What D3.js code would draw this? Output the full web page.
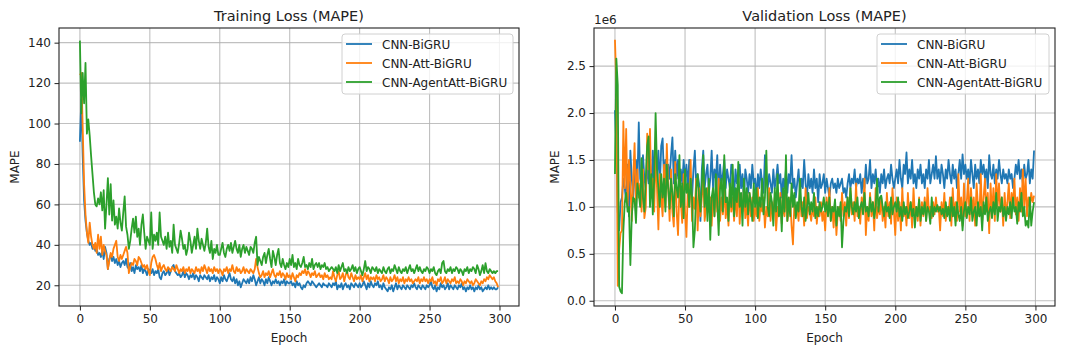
<!DOCTYPE html>
<html>
<head>
<meta charset="utf-8">
<script src="https://cdn.jsdelivr.net/npm/d3@7"></script>
<style>
    body { margin: 0; background: #fff; }
    svg { font-family: "DejaVu Sans", sans-serif; }
</style>
</head>
<body>
<div id="chart"></div>
<script>
var SERIES_NAMES = ["CNN-BiGRU", "CNN-Att-BiGRU", "CNN-AgentAtt-BiGRU"];
var SERIES_COLORS = ["#1f77b4", "#ff7f0e", "#2ca02c"];

var xTicks = [0, 50, 100, 150, 200, 250, 300];
var trainTicks = [20, 40, 60, 80, 100, 120, 140];
var valTicks = [0.0, 0.5, 1.0, 1.5, 2.0, 2.5];

// training MAPE, one value per epoch
var trainBiGRU = [
    91, 112, 84, 62, 52, 46, 42, 40, 41, 38,
    40, 37, 38, 35, 36, 34, 37, 33, 39, 36,
    28, 33, 35, 32, 34, 31, 33, 30, 32, 29,
    31, 32, 30, 33, 29, 28, 31, 27, 29, 26,
    30, 28, 29, 27, 30, 26, 28, 27, 25, 28,
    27, 26, 28, 25, 27, 26, 28, 24, 23, 26,
    27, 25, 26, 28, 25, 27, 29, 30, 27, 26,
    25, 26, 24, 25, 27, 24, 26, 25, 23, 25,
    24, 26, 23, 25, 24, 22, 25, 24, 23, 25,
    24, 23, 25, 22, 24, 23, 25, 22, 24, 23,
    21, 24, 22, 25, 23, 22, 24, 26, 23, 22,
    24, 21, 23, 20, 22, 19, 21, 23, 22, 21,
    23, 21, 24, 22, 25, 23, 20, 22, 24, 21,
    23, 22, 20, 23, 21, 24, 22, 20, 22, 21,
    23, 21, 22, 20, 22, 21, 23, 20, 22, 21,
    21, 22, 20, 21, 19, 22, 20, 21, 19, 18,
    20, 19, 21, 22, 21, 20, 22, 21, 20, 19,
    20, 21, 20, 19, 21, 20, 20, 19, 21, 20,
    19, 21, 20, 22, 18, 20, 19, 21, 18, 20,
    21, 19, 20, 18, 21, 20, 19, 21, 20, 19,
    21, 19, 20, 22, 20, 18, 21, 19, 22, 20,
    19, 21, 20, 22, 19, 20, 18, 21, 19, 18,
    17, 19, 18, 20, 17, 19, 21, 18, 20, 19,
    18, 20, 19, 18, 20, 19, 18, 20, 19, 21,
    19, 18, 20, 19, 18, 20, 19, 18, 20, 19,
    20, 22, 19, 18, 20, 17, 19, 18, 21, 19,
    20, 18, 19, 21, 18, 20, 19, 18, 20, 19,
    18, 20, 19, 21, 18, 19, 17, 19, 18, 20,
    18, 19, 17, 19, 18, 20, 18, 19, 17, 18,
    19, 18, 20, 18, 19, 18, 19, 18, 18, 19
];
var trainAttBiGRU = [
    124, 125, 98, 70, 55, 46, 41, 51, 44, 40,
    38, 41, 36, 45, 38, 44, 35, 40, 37, 35,
    28, 32, 36, 34, 38, 40, 42, 34, 32, 35,
    33, 35, 37, 39, 36, 26, 29, 31, 30, 33,
    32, 30, 34, 33, 31, 29, 30, 28, 30, 27,
    25, 31, 34, 35, 33, 30, 28, 31, 27, 29,
    30, 28, 27, 29, 28, 27, 29, 28, 27, 30,
    28, 26, 28, 27, 29, 26, 28, 27, 29, 26,
    28, 27, 26, 29, 27, 28, 26, 29, 27, 30,
    28, 26, 29, 27, 28, 26, 29, 27, 28, 26,
    28, 27, 25, 28, 27, 29, 26, 28, 27, 30,
    27, 26, 29, 27, 28, 26, 27, 29, 26, 28,
    27, 26, 28, 27, 26, 28, 33, 29, 26, 24,
    25, 27, 24, 26, 25, 27, 24, 26, 28, 25,
    24, 26, 25, 27, 24, 26, 25, 23, 26, 24,
    25, 23, 26, 24, 22, 25, 24, 26, 25, 27,
    26, 28, 25, 27, 26, 24, 26, 25, 27, 24,
    25, 26, 24, 25, 23, 26, 24, 25, 23, 24,
    23, 27, 24, 22, 25, 27, 23, 24, 26, 22,
    25, 27, 24, 23, 26, 24, 22, 25, 23, 24,
    23, 25, 22, 24, 26, 23, 25, 22, 24, 23,
    24, 22, 25, 23, 24, 22, 23, 25, 22, 24,
    23, 21, 24, 22, 23, 25, 22, 24, 21, 23,
    22, 24, 21, 23, 22, 24, 22, 23, 21, 22,
    23, 22, 24, 21, 23, 22, 24, 22, 23, 21,
    23, 22, 24, 21, 22, 20, 23, 22, 24, 21,
    22, 24, 21, 23, 22, 21, 23, 22, 24, 21,
    22, 21, 23, 22, 20, 22, 21, 23, 22, 21,
    22, 20, 21, 23, 22, 21, 20, 22, 21, 23,
    22, 24, 23, 25, 24, 23, 24, 22, 21, 19
];
var trainAgentAtt = [
    141, 105, 125, 110, 130, 95, 102, 94, 84, 75,
    66, 60, 59, 63, 60, 66, 57, 67, 48, 60,
    73, 55, 70, 52, 62, 50, 54, 48, 58, 51,
    47, 56, 64, 49, 45, 38, 42, 48, 53, 46,
    54, 44, 48, 40, 50, 55, 46, 38, 44, 42,
    40, 56, 38, 45, 42, 46, 40, 56, 44, 42,
    40, 44, 38, 46, 39, 42, 36, 50, 40, 38,
    36, 41, 47, 43, 38, 40, 35, 38, 46, 42,
    36, 40, 44, 38, 48, 42, 38, 43, 40, 37,
    41, 48, 39, 36, 42, 33, 38, 36, 40, 35,
    35, 38, 41, 36, 34, 38, 40, 37, 41, 36,
    39, 42, 38, 36, 40, 34, 38, 40, 36, 39,
    37, 35, 39, 38, 36, 41, 44, 30, 34, 32,
    30, 34, 36, 31, 35, 38, 33, 29, 37, 34,
    30, 35, 38, 31, 29, 33, 30, 28, 31, 29,
    33, 30, 35, 29, 31, 28, 33, 30, 29, 31,
    34, 29, 30, 28, 31, 29, 33, 28, 30, 31,
    29, 31, 28, 30, 29, 31, 28, 29, 27, 28,
    29, 28, 27, 29, 26, 30, 27, 29, 31, 27,
    28, 26, 29, 27, 28, 30, 27, 29, 26, 28,
    29, 27, 25, 28, 32, 27, 29, 28, 26, 29,
    28, 27, 29, 26, 28, 27, 26, 29, 27, 26,
    28, 29, 26, 28, 27, 30, 28, 26, 29, 27,
    26, 28, 27, 29, 26, 28, 30, 27, 28, 26,
    28, 30, 27, 29, 27, 26, 28, 27, 29, 28,
    26, 28, 27, 29, 26, 25, 27, 28, 26, 31,
    32, 27, 26, 28, 27, 29, 26, 28, 27, 29,
    28, 26, 28, 27, 25, 28, 27, 29, 26, 28,
    27, 29, 28, 26, 30, 28, 25, 27, 30, 26,
    31, 27, 26, 28, 27, 26, 27, 26, 27, 27
];

// validation MAPE, in units of 1e6
var valBiGRU = [
    2.03, 1.65, 0.95, 0.75, 1.05, 1.1, 1.3, 1.2, 1.05, 1.45,
    0.9, 1.6, 1.3, 1.1, 1.35, 1.5, 1.25, 1.9, 1.3, 1.2,
    1.55, 1.3, 1.2, 1.45, 1.25, 1.5, 1.1, 1.6, 1.25, 1.4,
    1.35, 1.6, 1.2, 1.65, 1.73, 1.3, 1.5, 1.2, 1.45, 1.3,
    1.55, 1.74, 1.25, 1.6, 1.3, 1.5, 1.15, 1.4, 1.25, 1.5,
    1.3, 1.45, 1.2, 1.5, 1.25, 1.1, 1.4, 1.6, 1.2, 1.35,
    1.25, 0.85, 1.4, 1.6, 1.2, 1.35, 1.45, 1.15, 1.3, 1.6,
    1.2, 1.4, 1.3, 1.55, 1.1, 1.45, 1.25, 1.35, 1.5, 1.2,
    1.4, 1.3, 1.2, 1.45, 1.35, 1.1, 1.4, 1.25, 1.3, 1.45,
    1.2, 1.35, 1.05, 1.4, 1.3, 1.15, 1.35, 1.2, 1.45, 1.25,
    1.3, 1.1, 1.35, 1.2, 1.4, 1.25, 1.15, 1.55, 1.3, 1.2,
    1.35, 1.25, 1.15, 1.4, 1.2, 1.3, 1.45, 1.25, 1.35, 1.1,
    1.3, 1.2, 1.4, 1.15, 1.35, 1.25, 1.55, 1.2, 1.3, 1.1,
    1.25, 1.4, 1.15, 1.3, 1.2, 1.5, 1.25, 1.1, 1.35, 1.2,
    1.3, 1.15, 1.4, 1.2, 1.3, 1.05, 1.35, 1.2, 1.25, 1.35,
    1.15, 1.3, 1.2, 1.1, 1.25, 1.3, 1.2, 1.25, 1.15, 1.3,
    1.2, 1.25, 1.3, 1.15, 1.2, 1.1, 1.25, 1.35, 1.2, 1.3,
    1.25, 1.4, 1.2, 1.3, 1.25, 1.35, 1.15, 1.3, 1.2, 1.45,
    1.25, 1.3, 1.5, 1.2, 1.35, 1.25, 1.4, 1.2, 1.3, 1.15,
    1.35, 1.25, 1.4, 1.2, 1.3, 1.35, 1.25, 1.45, 1.3, 1.2,
    1.3, 1.4, 1.25, 1.5, 1.3, 1.2, 1.45, 1.35, 1.58, 1.25,
    1.4, 1.3, 1.5, 1.25, 1.35, 1.2, 1.4, 1.3, 1.45, 1.25,
    1.35, 1.2, 1.4, 1.3, 1.5, 1.25, 1.35, 1.45, 1.3, 1.54,
    1.3, 1.4, 1.25, 1.45, 1.35, 1.2, 1.4, 1.3, 1.5, 1.35,
    1.25, 1.45, 1.3, 1.4, 1.2, 1.35, 1.5, 1.3, 1.56, 1.35,
    1.45, 1.3, 1.4, 1.25, 1.5, 1.35, 1.2, 1.45, 1.3, 1.4,
    1.25, 1.5, 1.35, 1.45, 1.3, 1.4, 1.2, 1.55, 1.35, 1.3,
    1.45, 1.25, 1.4, 1.3, 1.5, 1.35, 1.25, 1.4, 1.3, 1.35,
    1.25, 1.4, 1.3, 1.35, 1.2, 1.3, 1.45, 1.35, 1.5, 1.3,
    1.4, 1.25, 1.45, 1.3, 1.35, 1.5, 1.25, 1.4, 1.3, 1.6
];
var valAttBiGRU = [
    2.78, 2.3, 0.16, 0.55, 0.72, 0.75, 1.91, 1.2, 1.83, 1.0,
    1.5, 1.25, 0.85, 1.3, 1.68, 1.0, 1.4, 1.1, 1.25, 0.95,
    1.4, 0.88, 1.0, 1.78, 1.4, 1.83, 1.1, 1.3, 0.95, 1.6,
    1.2, 0.76, 1.35, 1.1, 0.9, 1.45, 1.0, 1.67, 1.2, 0.85,
    1.4, 0.95, 0.79, 1.48, 0.95, 0.7, 1.2, 1.05, 0.83, 1.35,
    0.95, 0.68, 1.2, 1.0, 1.5, 0.85, 1.1, 0.98, 1.3, 0.75,
    1.2, 0.9, 1.1, 1.35, 0.85, 1.0, 1.2, 0.95, 1.1, 0.8,
    1.15, 0.9, 1.2, 0.95, 1.3, 0.85, 1.1, 0.92, 1.25, 0.88,
    1.05, 0.8, 1.2, 0.95, 1.1, 0.85, 1.15, 0.9, 1.3, 0.82,
    1.1, 0.95, 1.2, 0.88, 1.05, 0.8, 1.15, 0.9, 1.1, 0.85,
    1.0, 0.9, 1.2, 0.85, 1.05, 0.95, 1.1, 0.78, 1.0, 0.9,
    1.2, 0.85, 1.05, 0.95, 1.1, 0.75, 1.0, 0.9, 1.15, 0.82,
    1.05, 0.9, 1.2, 0.85, 0.95, 1.1, 0.8, 0.6, 1.05, 0.9,
    1.0, 0.85, 1.15, 0.9, 1.05, 0.8, 1.2, 0.88, 1.0, 0.95,
    0.85, 1.0, 0.9, 1.1, 0.82, 1.0, 0.9, 1.05, 0.85, 0.95,
    0.75, 1.1, 0.9, 1.2, 0.85, 1.0, 0.78, 1.05, 0.7, 0.95,
    1.0, 0.85, 1.15, 0.9, 1.05, 0.8, 1.1, 0.88, 1.2, 0.92,
    1.05, 0.85, 1.25, 0.9, 1.0, 0.82, 1.1, 0.95, 1.3, 0.7,
    1.0, 0.85, 1.15, 0.9, 1.05, 0.75, 1.2, 0.88, 1.0, 0.92,
    1.1, 0.85, 1.0, 0.78, 1.15, 0.9, 1.05, 0.82, 1.2, 0.95,
    0.7, 1.1, 0.85, 1.05, 0.75, 1.2, 0.9, 1.0, 0.8, 1.15,
    0.88, 1.05, 0.78, 1.2, 0.9, 1.0, 0.85, 1.1, 0.8, 1.05,
    0.9, 1.1, 0.85, 1.2, 0.95, 1.0, 0.88, 1.05, 0.92, 1.1,
    0.95, 1.0, 0.75, 1.05, 0.9, 1.15, 0.85, 1.0, 0.92, 1.1,
    0.8, 1.2, 0.9, 1.05, 0.85, 1.35, 0.95, 1.1, 0.8, 1.25,
    0.9, 1.05, 1.3, 0.85, 1.2, 0.95, 1.1, 0.8, 1.25, 1.0,
    0.9, 1.35, 0.85, 1.1, 1.3, 0.95, 1.15, 0.72, 1.25, 0.9,
    1.2, 0.85, 1.35, 1.0, 1.25, 0.95, 1.1, 0.8, 1.15, 0.9,
    1.05, 1.25, 0.88, 1.15, 1.0, 1.3, 0.92, 1.1, 0.85, 1.2,
    0.95, 1.4, 1.0, 1.3, 0.9, 1.1, 1.0, 1.15, 1.05, 1.12
];
var valAgentAtt = [
    1.35, 2.58, 2.3, 0.15, 0.1, 0.08, 0.75, 1.05, 1.15, 0.95,
    1.0, 0.38, 0.9, 1.1, 1.08, 0.83, 1.25, 1.15, 1.0, 1.52,
    1.1, 0.95, 1.3, 1.65, 1.75, 1.0, 1.35, 0.92, 1.3, 2.0,
    1.4, 1.2, 1.0, 1.35, 1.1, 1.3, 0.95, 1.45, 1.2, 0.98,
    1.3, 1.15, 0.9, 1.35, 1.2, 1.1, 1.55, 1.0, 1.25, 0.88,
    1.4, 1.15, 1.25, 1.0, 1.3, 1.1, 0.57, 0.75, 1.2, 1.35,
    1.1, 0.95, 1.25, 1.55, 1.0, 1.2, 0.85, 1.3, 0.65, 1.1,
    1.2, 0.9, 1.35, 1.05, 0.7, 1.2, 1.3, 0.95, 1.55, 1.05,
    1.1, 0.85, 1.25, 1.0, 1.45, 0.9, 1.2, 1.05, 1.48, 1.0,
    1.15, 0.8, 1.3, 1.0, 1.2, 0.92, 1.15, 1.05, 0.85, 1.25,
    1.0, 1.2, 0.88, 1.1, 1.0, 1.3, 0.92, 1.1, 1.6, 1.0,
    0.9, 1.15, 1.05, 0.8, 1.2, 0.95, 1.35, 0.9, 1.1, 0.74,
    1.2, 0.95, 1.55, 0.85, 1.1, 0.9, 1.25, 1.0, 1.15, 0.88,
    1.05, 0.95, 1.3, 1.0, 0.9, 1.1, 0.85, 1.0, 1.15, 0.92,
    1.05, 0.95, 1.15, 0.88, 1.0, 0.9, 1.05, 0.95, 1.0, 1.1,
    0.95, 1.05, 0.9, 1.1, 0.85, 1.0, 0.95, 1.08, 0.8, 1.0,
    0.9, 1.05, 0.57, 0.85, 1.0, 0.95, 1.1, 0.9, 1.2, 1.0,
    0.92, 1.05, 0.95, 1.1, 0.88, 1.0, 1.05, 0.92, 1.15, 0.95,
    1.0, 0.9, 1.1, 0.95, 1.05, 0.88, 1.0, 1.3, 0.95, 1.1,
    1.12, 1.0, 0.9, 1.05, 0.95, 1.0, 0.88, 1.1, 0.92, 1.0,
    1.05, 0.95, 1.1, 0.9, 1.0, 0.85, 1.05, 0.92, 1.0, 0.88,
    0.95, 1.05, 0.9, 0.98, 0.78, 1.0, 0.9, 1.08, 0.85, 1.0,
    0.92, 1.05, 0.85, 1.0, 0.95, 0.82, 1.1, 0.9, 1.0, 0.95,
    1.02, 0.95, 1.0, 0.92, 0.98, 0.88, 1.05, 0.9, 1.0, 0.85,
    1.1, 0.9, 1.0, 0.8, 1.05, 0.92, 0.85, 1.0, 0.75, 0.95,
    1.05, 0.88, 1.0, 0.92, 1.1, 0.85, 0.95, 1.0, 0.8, 1.05,
    0.9, 1.0, 0.75, 1.05, 0.92, 1.1, 0.85, 0.95, 1.0, 0.88,
    1.05, 0.92, 1.15, 0.85, 1.0, 0.95, 1.1, 0.9, 1.0, 0.85,
    1.0, 0.92, 1.05, 0.88, 1.1, 0.95, 1.0, 0.82, 1.05, 0.95,
    1.15, 0.9, 1.0, 0.8, 0.85, 0.78, 1.1, 0.8, 0.95, 1.05
];

var WIDTH = 1080,
    HEIGHT = 354;

var svg = d3.select("#chart")
    .append("svg")
    .attr("width", WIDTH)
    .attr("height", HEIGHT);

function drawPanel(opts) {
    var box = opts.box; // left, top, right, bottom in px
    var w = box.right - box.left,
        h = box.bottom - box.top;

    var g = svg.append("g")
        .attr("transform", "translate(" + box.left + "," + box.top + ")");

    var x = d3.scaleLinear().domain([-14.95, 313.95]).range([0, w]);
    var y = d3.scaleLinear().domain(opts.yDomain).range([h, 0]);

    // grid
    g.append("g")
        .selectAll("line")
        .data(xTicks).enter()
        .append("line")
        .attr("x1", function(d) { return x(d); })
        .attr("x2", function(d) { return x(d); })
        .attr("y1", 0).attr("y2", h)
        .attr("stroke", "#b0b0b0").attr("stroke-opacity", 0.8).attr("stroke-width", 1.1);
    g.append("g")
        .selectAll("line")
        .data(opts.yTicks).enter()
        .append("line")
        .attr("y1", function(d) { return y(d); })
        .attr("y2", function(d) { return y(d); })
        .attr("x1", 0).attr("x2", w)
        .attr("stroke", "#b0b0b0").attr("stroke-opacity", 0.8).attr("stroke-width", 1.1);

    // lines
    var line = d3.line()
        .x(function(d, i) { return x(i); })
        .y(function(d) { return y(d); });

    opts.series.forEach(function(s, k) {
        g.append("path")
            .datum(s)
            .attr("d", line)
            .attr("fill", "none")
            .attr("stroke", SERIES_COLORS[k])
            .attr("stroke-width", 1.8)
            .attr("stroke-linejoin", "round");
    });

    // axes
    var xAxis = g.append("g")
        .attr("transform", "translate(0," + h + ")")
        .call(d3.axisBottom(x).tickValues(xTicks).tickSize(4.5).tickSizeOuter(0).tickPadding(3.5));
    var yAxis = g.append("g")
        .call(d3.axisLeft(y).tickValues(opts.yTicks).tickFormat(opts.tickFormat).tickSize(4.5).tickSizeOuter(0).tickPadding(3.5));

    [xAxis, yAxis].forEach(function(a) {
        a.select(".domain").remove();
        a.selectAll("text")
            .attr("font-family", "DejaVu Sans")
            .attr("font-size", 12)
            .attr("fill", "#222");
        a.selectAll("line").attr("stroke", "#222").attr("stroke-width", 1);
    });

    // frame
    g.append("rect")
        .attr("x", 0).attr("y", 0)
        .attr("width", w).attr("height", h)
        .attr("fill", "none")
        .attr("stroke", "#222")
        .attr("stroke-width", 1.1);

    // titles
    g.append("text")
        .attr("x", w / 2).attr("y", -7)
        .attr("text-anchor", "middle")
        .attr("font-size", 14.5)
        .attr("fill", "#222")
        .text(opts.title);
    g.append("text")
        .attr("x", w / 2).attr("y", h + 36)
        .attr("text-anchor", "middle")
        .attr("font-size", 12)
        .attr("fill", "#222")
        .text("Epoch");
    g.append("text")
        .attr("transform", "translate(" + opts.yLabelX + "," + (h / 2) + ") rotate(-90)")
        .attr("text-anchor", "middle")
        .attr("font-size", 12)
        .attr("fill", "#222")
        .text("MAPE");

    if (opts.offsetText) {
        g.append("text")
            .attr("x", 0).attr("y", -4)
            .attr("font-size", 12)
            .attr("fill", "#222")
            .text(opts.offsetText);
    }

    // legend
    var lg = g.append("g")
        .attr("transform", "translate(" + (w - opts.legendW - 6) + ",6)");
    lg.append("rect")
        .attr("width", opts.legendW).attr("height", 60)
        .attr("rx", 3)
        .attr("fill", "#fff").attr("fill-opacity", 0.8)
        .attr("stroke", "#d0d0d0");
    SERIES_NAMES.forEach(function(name, k) {
        var yy = 10 + k * 19;
        lg.append("line")
            .attr("x1", 4).attr("x2", 30)
            .attr("y1", yy).attr("y2", yy)
            .attr("stroke", SERIES_COLORS[k])
            .attr("stroke-width", 1.8);
        lg.append("text")
            .attr("x", 40).attr("y", yy + 4.5)
            .attr("font-size", 12)
            .attr("fill", "#222")
            .text(name);
    });
}

drawPanel({
    box: { left: 59, top: 28, right: 519, bottom: 306 },
    yDomain: [9.75, 147.25],
    yTicks: trainTicks,
    tickFormat: d3.format("d"),
    series: [trainBiGRU, trainAttBiGRU, trainAgentAtt],
    title: "Training Loss (MAPE)",
    yLabelX: -40,
    legendW: 171
});

drawPanel({
    box: { left: 594, top: 28, right: 1055, bottom: 306 },
    yDomain: [-0.056, 2.906],
    yTicks: valTicks,
    tickFormat: d3.format(".1f"),
    series: [valBiGRU, valAttBiGRU, valAgentAtt],
    title: "Validation Loss (MAPE)",
    offsetText: "1e6",
    yLabelX: -35,
    legendW: 172
});
</script>
</body>
</html>
